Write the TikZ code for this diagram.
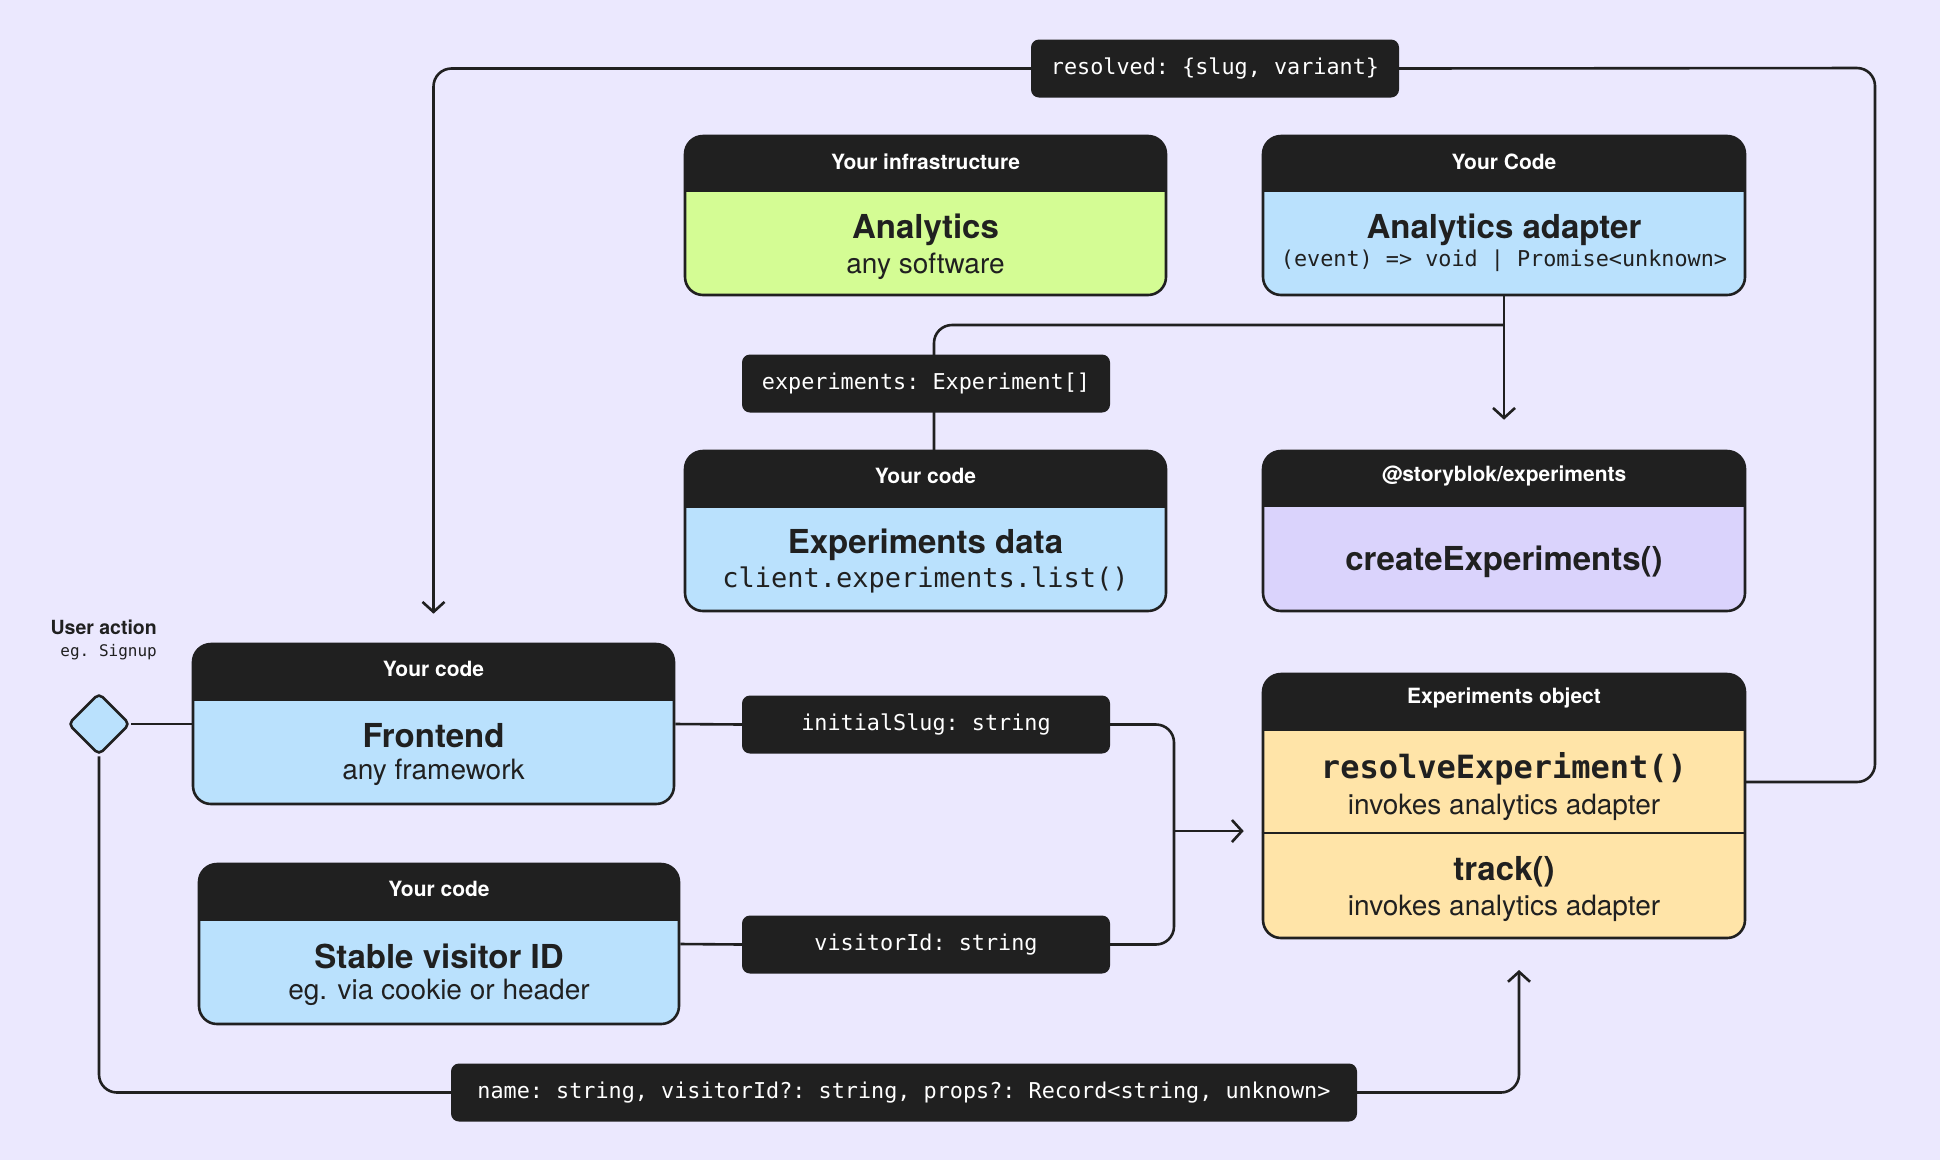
\documentclass[tikz,border=0pt]{standalone}
\usepackage{fontspec}
\setmainfont{TeX Gyre Heros}
\setmonofont{DejaVu Sans Mono}
\usetikzlibrary{arrows.meta,calc,shapes.geometric}
\pgfdeclarelayer{bglayer}
\pgfdeclarelayer{wirelayer}
\pgfsetlayers{bglayer,wirelayer,main}
\definecolor{bg}{HTML}{EBE8FE}
\definecolor{ink}{HTML}{202020}
\definecolor{lime}{HTML}{D4FC94}
\definecolor{lblue}{HTML}{BAE1FD}
\definecolor{lilac}{HTML}{DAD3FC}
\definecolor{sand}{HTML}{FFE4A8}
\newcommand\mkcard[7]{%
  \begin{scope}
    \clip[rounded corners=18pt] (#2,#3) rectangle (#4,#5);
    \fill[#7] (#2,#3) rectangle (#4,#5);
    \fill[ink] (#2,#3) rectangle (#4,#6);
  \end{scope}
  \node[card, minimum width={(#4-#2)*1pt}, minimum height={(#5-#3)*1pt}] (#1) at ({(#2+#4)/2},{(#3+#5)/2}) {};
}
\tikzset{
  card/.style={draw=ink, line width=2.6pt, rounded corners=18pt, rectangle, inner sep=0pt},
  hdrtxt/.style={text=white, font=\fontsize{21}{25}\selectfont\bfseries, inner sep=0pt},
  ttl/.style={text=ink, font=\fontsize{33}{38}\selectfont\bfseries, inner sep=0pt},
  sub/.style={text=ink, font=\fontsize{28}{32}\selectfont, inner sep=0pt},
  monosub/.style={text=ink, font=\fontsize{21.8}{26}\selectfont\ttfamily, inner sep=0pt},
  monobig/.style={text=ink, font=\fontsize{27}{32}\selectfont\ttfamily, inner sep=0pt},
  monottl/.style={text=ink, font=\fontsize{32}{36}\selectfont\ttfamily\bfseries, inner sep=0pt},
  lbl/.style={fill=ink, rounded corners=8pt, text=white, font=\fontsize{21.8}{26}\selectfont\ttfamily, minimum height=58pt, inner sep=0pt},
  wire/.style={draw=ink, line width=2.6pt, rounded corners=18pt},
  arr/.style={wire, -{Straight Barb[length=10pt,width=22pt]}},
}
\begin{document}
\begin{tikzpicture}[x=1pt,y=-1pt]
\begin{pgfonlayer}{bglayer}
\fill[bg] (0,0) rectangle (1940,1160);
\end{pgfonlayer}
\useasboundingbox (0,0) rectangle (1940,1160);

% ---- cards
\mkcard{an}{685}{136}{1166}{295}{192}{lime}
\mkcard{ad}{1263}{136}{1745}{295}{192}{lblue}
\mkcard{ed}{685}{451}{1166}{611}{508}{lblue}
\mkcard{ce}{1263}{451}{1745}{611}{507}{lilac}
\mkcard{fe}{193}{644}{674}{804}{701}{lblue}
\mkcard{sv}{199}{864}{679}{1024}{921}{lblue}
\mkcard{eo}{1263}{674}{1745}{938}{731}{sand}
\draw[ink, line width=2.6pt] (eo.west |- 0,833) -- (eo.east |- 0,833);

\node[diamond, draw=ink, fill=lblue, line width=2.6pt, minimum width=62pt, minimum height=62pt, inner sep=0pt, rounded corners=5pt] (ua) at (99,724) {};

% ---- coordinates
\coordinate (mj) at (1174,831);
\coordinate (tk) at (1519,970);
\coordinate (eoR) at (1745,782);
\coordinate (rc) at (1875,68);
\coordinate (edT) at (934,451);
\coordinate (jn) at (1504,325);

% ---- labels
\node[lbl, minimum width=368pt] (res) at (1215,68.5) {resolved: \{slug, variant\}};
\node[lbl, minimum width=368pt] (exl) at (926,383.5) {experiments: Experiment[]};
\node[lbl, minimum width=368pt] (isl) at (926,724.5) {initialSlug: string};
\node[lbl, minimum width=368pt] (vid) at (926,944.5) {visitorId: string};
\node[lbl, minimum width=906pt] (nm) at (904,1092.5) {name: string, visitorId?: string, props?: Record<string, unknown>};

% ---- wires (below labels and cards)
\begin{pgfonlayer}{wirelayer}
\draw[wire] (ua.east) -- (fe.west);
\draw[wire] (fe.east) -- (isl.west);
\draw[wire] (sv.east) -- (vid.west);
\draw[wire] (isl.east) -| (mj) |- (vid.east);
\draw[arr, shorten >=18pt] (mj) -- (mj -| eo.west);
\draw[wire] (ua.south) |- (nm.west);
\draw[arr] (nm.east) -| (tk);
\draw[wire] (eoR) -| (rc) -- (res.east);
\draw[arr, shorten >=29pt] (res.west) -| (fe.north);
\draw[arr, shorten >=30pt] (ad.south) -- (ad.south |- ce.north);
\draw[wire] (edT) |- (jn);
\end{pgfonlayer}

% ---- card texts
\node[hdrtxt] (an-h) at (925.5,162) {Your infrastructure};
\node[ttl] (an-t) at (925.5,230) {Analytics};
\node[sub] (an-s) at (925.5,266) {any software};

\node[hdrtxt] (ad-h) at (1504,162) {Your Code};
\node[ttl] (ad-t) at (1504,230) {Analytics adapter};
\node[monosub] (ad-s) at (1504,261) {(event) => void | Promise<unknown>};

\node[hdrtxt] (ed-h) at (925.5,476) {Your code};
\node[ttl] (ed-t) at (925.5,545) {Experiments data};
\node[monobig] (ed-s) at (925.5,580) {client.experiments.list()};

\node[hdrtxt] (ce-h) at (1504,476) {@storyblok/experiments};
\node[ttl] (ce-t) at (1504,562) {createExperiments()};

\node[hdrtxt] (fe-h) at (433.5,669) {Your code};
\node[ttl] (fe-t) at (433.5,736) {Frontend};
\node[sub] (fe-s) at (433.5,772) {any framework};

\node[hdrtxt] (sv-h) at (439,889) {Your code};
\node[ttl] (sv-t) at (439,956) {Stable visitor ID};
\node[sub] (sv-s) at (439,992) {eg. via cookie or header};

\node[hdrtxt] (eo-h) at (1504,698) {Experiments object};
\node[monottl] (eo-r) at (1504,769) {resolveExperiment()};
\node[sub] (eo-rs) at (1504,807) {invokes analytics adapter};
\node[ttl] (eo-t) at (1504,872) {track()};
\node[sub] (eo-ts) at (1504,908) {invokes analytics adapter};

% ---- user action
\node[anchor=east, text=ink, font=\fontsize{19.5}{23}\selectfont\bfseries, inner sep=0pt] (uat) at (157,627) {User action};
\node[anchor=east, text=ink, font=\fontsize{16}{20}\selectfont\ttfamily, inner sep=0pt] (uas) at (157,652) {eg. Signup};
\end{tikzpicture}
\end{document}
